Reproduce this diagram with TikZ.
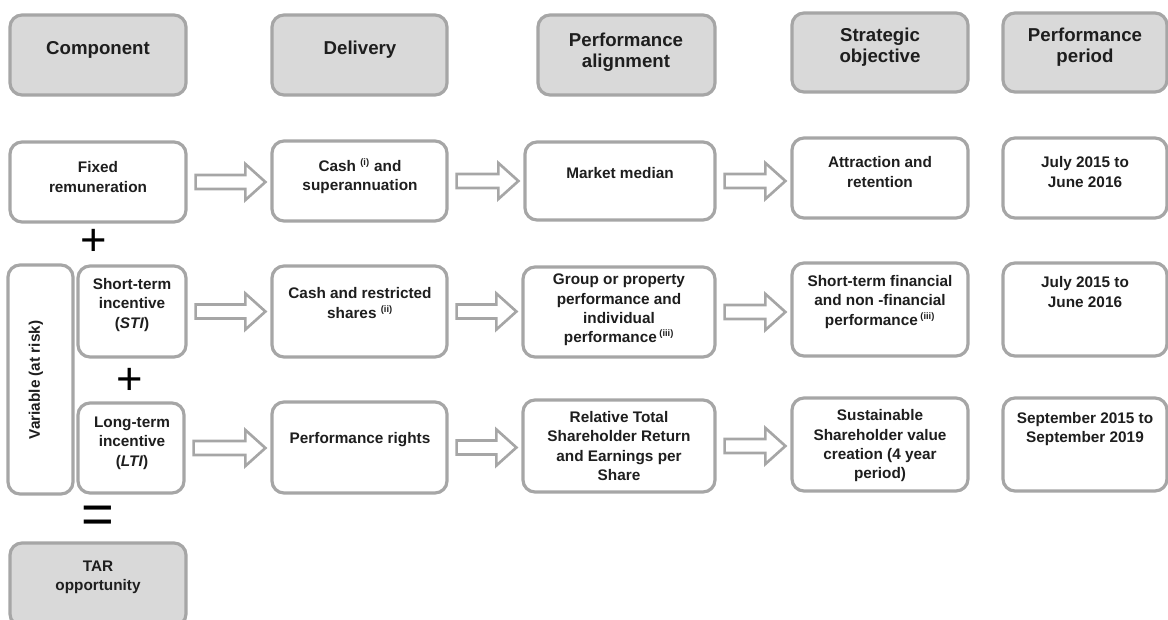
\documentclass[tikz,border=0pt]{standalone}
\usepackage{fontspec}
\setmainfont{Liberation Sans}
\usetikzlibrary{fit,calc}

\definecolor{framegray}{RGB}{166,166,166}
\definecolor{headgray}{RGB}{217,217,217}
\definecolor{inkgray}{RGB}{30,30,30}

\newcommand{\sref}[1]{\textsuperscript{\fontsize{7}{7}\selectfont(#1)}}
% hollow block arrow from one box to the next
\newcommand{\fatarrow}[2]{%
  \draw[hollowarrow] let \p1=($(#1.east)+(8,0)$), \p2=($(#2.west)+(-5,0)$) in
    (\x1,\y1+5.25pt) -- (\x2-15pt,\y1+5.25pt) -- (\x2-15pt,\y1+13.5pt) -- (\x2,\y1)
    -- (\x2-15pt,\y1-13.5pt) -- (\x2-15pt,\y1-5.25pt) -- (\x1,\y1-5.25pt) -- cycle ;}

\tikzset{every picture/.style={line width=0.75pt}}
\tikzset{
  cell/.style={draw=framegray, line width=2.4pt, rounded corners=9pt, fill=white, inner sep=0pt},
  headcell/.style={cell, fill=headgray},
  txt/.style={align=center, text=inkgray, inner sep=0pt, font=\fontsize{11.5}{14.5}\selectfont\bfseries},
  headtxt/.style={txt, font=\fontsize{14}{15.5}\selectfont\bfseries},
  hollowarrow/.style={draw=framegray, line width=2pt, fill=white, line join=miter},
  sign/.style={text=black, inner sep=0pt}
}

\begin{document}
\begin{tikzpicture}[x=0.75pt,y=0.75pt,yscale=-1,xscale=1]
	\useasboundingbox (0,0) rectangle (1168,619);

	%Shape: Header boxes
	\node[headcell, fit={(10,15) (186,95)}] (hcomp) {};
	\node[headcell, fit={(272,15) (447,95)}] (hdel) {};
	\node[headcell, fit={(538,15) (715,95)}] (halign) {};
	\node[headcell, fit={(792,13) (968,92)}] (hobj) {};
	\node[headcell, fit={(1003,13) (1167,92)}] (hper) {};

	%Shape: Row of fixed remuneration
	\node[cell, fit={(10,142) (186,222)}] (fixed) {};
	\node[cell, fit={(272,141) (447,221)}] (cashsup) {};
	\node[cell, fit={(525,142) (715,220)}] (median) {};
	\node[cell, fit={(792,138) (968,218)}] (attract) {};
	\node[cell, fit={(1003,138) (1167,218)}] (perfix) {};

	%Shape: Row of short-term incentive
	\node[cell, fit={(8,265) (73,494)}] (variable) {};
	\node[cell, fit={(78,266) (186,357)}] (sti) {};
	\node[cell, fit={(272,266) (447,357)}] (cashres) {};
	\node[cell, fit={(523,267) (715,357)}] (group) {};
	\node[cell, fit={(792,263) (968,356)}] (stfin) {};
	\node[cell, fit={(1003,263) (1167,356)}] (persti) {};

	%Shape: Row of long-term incentive
	\node[cell, fit={(78,403) (184,493)}] (lti) {};
	\node[cell, fit={(272,402) (447,493)}] (rights) {};
	\node[cell, fit={(523,400) (715,492)}] (tsr) {};
	\node[cell, fit={(792,398) (968,491)}] (sustain) {};
	\node[cell, fit={(1003,398) (1167,491)}] (perlti) {};

	%Shape: TAR box
	\node[headcell, fit={(10,543) (186,626)}] (tar) {};

	%Block arrows
	\fatarrow{fixed}{cashsup}
	\fatarrow{cashsup}{median}
	\fatarrow{median}{attract}
	\fatarrow{sti}{cashres}
	\fatarrow{cashres}{group}
	\fatarrow{group}{stfin}
	\fatarrow{lti}{rights}
	\fatarrow{rights}{tsr}
	\fatarrow{tsr}{sustain}

	% Text Node
	\node[headtxt] (tcomp) at (98,50) {Component};
	% Text Node
	\node[headtxt] (tdel) at (360,50) {Delivery};
	% Text Node
	\node[headtxt] (talign) at (626,52) {Performance\\alignment};
	% Text Node
	\node[headtxt] (tobj) at (880,47) {Strategic\\objective};
	% Text Node
	\node[headtxt] (tper) at (1085,47) {Performance\\period};

	% Text Node
	\node[txt] (tfixed) at (98,177) {Fixed\\remuneration};
	% Text Node
	\node[txt] (tcashsup) at (360,176) {Cash \sref{i} and\\superannuation};
	% Text Node
	\node[txt] (tmedian) at (620,173) {Market median};
	% Text Node
	\node[txt] (tattract) at (880,172) {Attraction and\\retention};
	% Text Node
	\node[txt] (tperfix) at (1085,172) {July 2015 to\\June 2016};

	% Text Node
	\node[txt, rotate=90] (tvar) at (36,380) {Variable (at risk)};
	% Text Node
	\node[txt] (tsti) at (132,305) {Short-term\\incentive\\(\textit{STI})};
	% Text Node
	\node[txt] (tcashres) at (360,303) {Cash and restricted\\shares \sref{ii}};
	% Text Node
	\node[txt] (tgroup) at (619,310) {Group or property\\performance and\\individual\\performance\,\sref{iii}};
	% Text Node
	\node[txt] (tstfin) at (880,302) {Short-term financial\\and non -financial\\performance\,\sref{iii}};
	% Text Node
	\node[txt] (tpersti) at (1085,292) {July 2015 to\\June 2016};

	% Text Node
	\node[txt] (tlti) at (132,443) {Long-term\\incentive\\(\textit{LTI})};
	% Text Node
	\node[txt] (trights) at (360,440) {Performance rights};
	% Text Node
	\node[txt] (ttsr) at (619,446) {Relative Total\\Shareholder Return\\and Earnings per\\Share};
	% Text Node
	\node[txt] (tsustain) at (880,446) {Sustainable\\Shareholder value\\creation (4 year\\period)};
	% Text Node
	\node[txt] (tperlti) at (1085,429) {September 2015 to\\September 2019};

	% Text Node
	\node[txt] (ttar) at (98,577) {TAR\\opportunity};

	% Signs
	\node[sign, font=\fontsize{34}{34}\selectfont] (plusa) at (94,242) {+};
	\node[sign, font=\fontsize{34}{34}\selectfont] (plusb) at (130,381) {+};
	\node[sign, font=\fontsize{42}{42}\selectfont] (equal) at (98,520) {=};

\end{tikzpicture}
\end{document}
